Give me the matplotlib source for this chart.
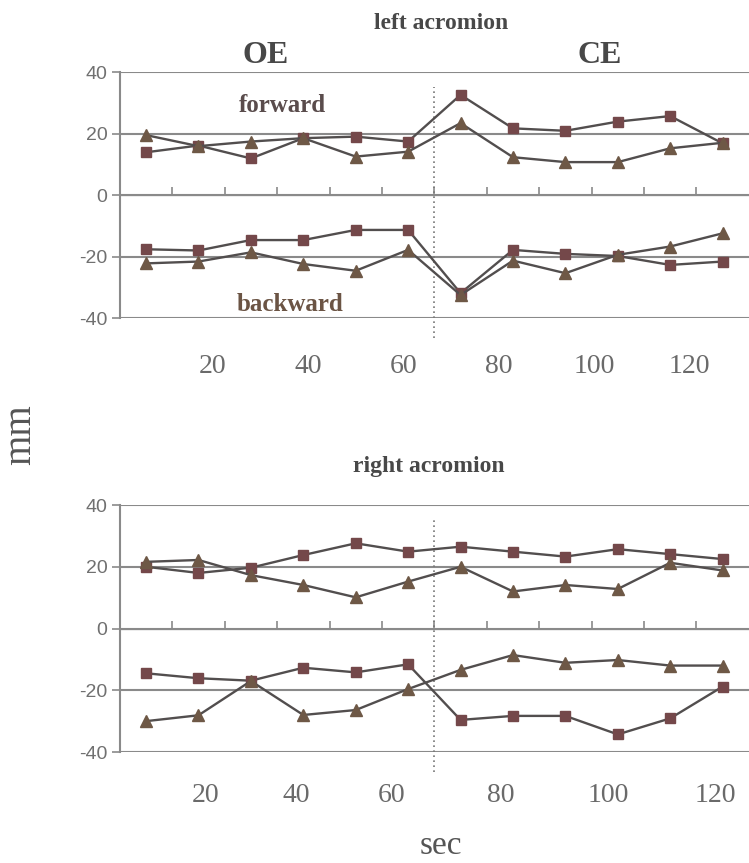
import numpy as np
import matplotlib
matplotlib.use('Agg')
import matplotlib.pyplot as plt

# time of each measurement (sec)
t = np.array([6, 17, 28, 39, 50, 61, 72, 83, 94, 105, 116, 127])
xtick_vals = [20, 40, 60, 80, 100, 120]
xtick_labels = ['20', '40', '60', '80', '100', '120']
xtick_vals_right = [18.5, 37.5, 57.5, 80.5, 103, 125.5]

# left acromion (mm)
left_fwd_sq = [14, 16.2, 12, 18.6, 19.1, 17.5, 32.7, 21.8, 21, 24, 25.8, 16.9]
left_fwd_tri = [19.6, 16, 17.5, 18.6, 12.6, 14.2, 23.5, 12.4, 10.8, 10.8, 15.3, 17.1]
left_bwd_sq = [-17.6, -18, -14.6, -14.6, -11.3, -11.3, -31.9, -17.8, -19.1, -19.8, -22.7, -21.6]
left_bwd_tri = [-22.2, -21.6, -18.6, -22.4, -24.6, -17.8, -32.5, -21.3, -25.4, -19.4, -16.7, -12.4]

# right acromion (mm)
right_fwd_sq = [20, 18, 19.7, 23.8, 27.6, 24.9, 26.5, 24.9, 23.3, 25.7, 24.1, 22.5]
right_fwd_tri = [21.6, 22.2, 17.3, 14.1, 10.1, 15.2, 20, 12, 14.1, 12.8, 21.3, 18.8]
right_bwd_sq = [-14.5, -16.1, -16.9, -12.7, -14.2, -11.6, -29.6, -28.3, -28.3, -34.3, -29.1, -18.8]
right_bwd_tri = [-30, -28.1, -17, -28, -26.4, -19.6, -13.4, -8.6, -11.1, -10.2, -12, -12]

serif = 'Liberation Serif'
sans = 'Liberation Sans'
line_c = '#524e4e'
sq_c = '#74484a'
tri_c = '#6e5846'
grid_c = '#8a8a8a'

fig = plt.figure(figsize=(7.49, 8.63), dpi=100)


def panel(rect, fs, ft, bs, bt, tickpos, pad):
    ax = fig.add_axes(rect)
    for y, m, c in [(fs, 's', sq_c), (ft, '^', tri_c), (bs, 's', sq_c), (bt, '^', tri_c)]:
        ax.plot(t, y, color=line_c, lw=1.7, marker=m, ms=7.5 if m == 's' else 8,
                mfc=c, mec=c, zorder=3)
    ax.set_xlim(t[0] - 5.5, t[-1] + 5.5)
    ax.set_ylim(-40, 40)
    ax.set_yticks([-40, -20, 0, 20, 40])
    ax.set_yticklabels(['-40', '-20', '0', '20', '40'], family=sans, fontsize=14, color='#707070')
    ax.tick_params(axis='y', length=6, width=1.2, color=grid_c, pad=3)
    ax.set_xticks(tickpos)
    ax.set_xticklabels(xtick_labels, family=serif, fontsize=20, color='#6a6a6a')
    ax.tick_params(axis='x', length=0, pad=pad)
    ax.grid(axis='y', color=grid_c, lw=1.5)
    ax.set_axisbelow(True)
    for s in ['top', 'right', 'bottom']:
        ax.spines[s].set_visible(False)
    ax.spines['left'].set_color(grid_c)
    ax.spines['left'].set_linewidth(1.5)
    # category ticks on the zero line
    sec = ax.secondary_xaxis(0.5)
    sec.set_xticks((t[:-1] + t[1:]) / 2)
    sec.set_xticklabels([])
    sec.tick_params(length=6, width=1.2, color=grid_c, direction='out')
    sec.spines['bottom'].set_visible(False)
    # OE / CE boundary
    ax.axvline((t[5] + t[6]) / 2, ymin=-0.08, ymax=0.94, color='#777777', lw=1.2,
               ls=(0, (1, 2)), clip_on=False, zorder=2)
    return ax


ax1 = panel([0.16, 0.6315, 0.8398, 0.2845], left_fwd_sq, left_fwd_tri, left_bwd_sq, left_bwd_tri, xtick_vals, 26)
ax2 = panel([0.16, 0.1286, 0.8398, 0.2862], right_fwd_sq, right_fwd_tri, right_bwd_sq, right_bwd_tri, xtick_vals_right, 22)

fig.text(0.589, 0.9733, 'left acromion', family=serif, weight='bold', fontsize=17, color='#484848', ha='center', va='center')
fig.text(0.355, 0.936, 'OE', family=serif, weight='bold', fontsize=23, color='#484848', ha='center', va='center')
fig.text(0.80, 0.936, 'CE', family=serif, weight='bold', fontsize=23, color='#484848', ha='center', va='center')
fig.text(0.3765, 0.8783, 'forward', family=serif, weight='bold', fontsize=18, color='#5a4c4c', ha='center', va='center')
fig.text(0.387, 0.6466, 'backward', family=serif, weight='bold', fontsize=18, color='#6b5444', ha='center', va='center')
fig.text(0.573, 0.459, 'right acromion', family=serif, weight='bold', fontsize=17, color='#484848', ha='center', va='center')
fig.text(0.027, 0.496, 'mm', family=serif, fontsize=28, color='#555555', rotation=90, ha='center', va='center')
fig.text(0.588, 0.02, 'sec', family=serif, fontsize=24, color='#555555', ha='center', va='center')

fig.savefig('out.png', dpi=100)
